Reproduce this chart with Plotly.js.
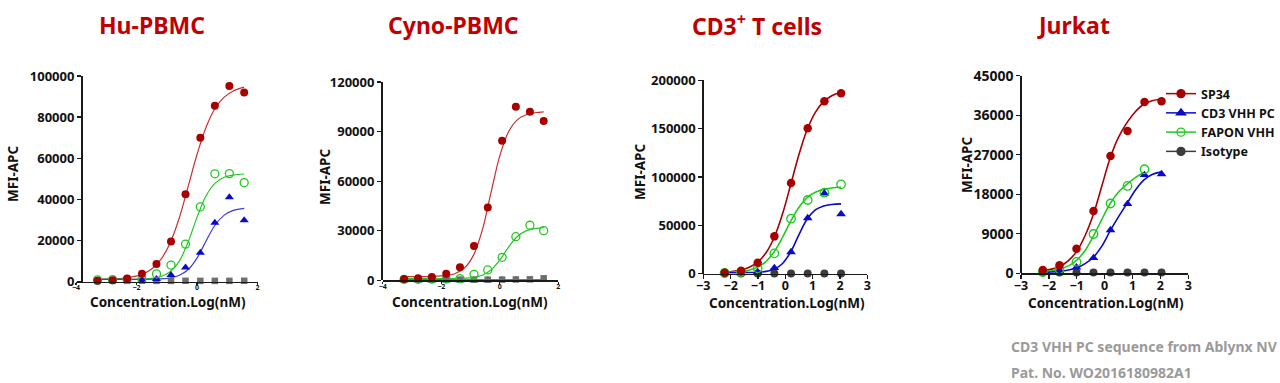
<!DOCTYPE html>
<html>
<head>
<meta charset="utf-8">
<script src="https://cdn.plot.ly/plotly-3.0.1.min.js"></script>
<style>html,body{margin:0;padding:0;background:#fff;}#chart{width:1280px;height:383px;}</style>
</head>
<body>
<div id="chart"></div>
<script>
// ---------- DATA ----------
const panelTitles = ["Hu-PBMC", "Cyno-PBMC", "CD3<sup>+</sup> T cells", "Jurkat"];
const seriesNames = ["SP34", "CD3 VHH PC", "FAPON VHH", "Isotype"];

// Panel 1 : Hu-PBMC
const p1X     = [-3.29, -2.79, -2.31, -1.82, -1.34, -0.86, -0.38, 0.11, 0.59, 1.07, 1.56];
const p1SP34  = [330, 650, 1460, 3740, 8460, 19500, 42400, 69900, 85500, 95100, 92000];
const p1CD3   = [200, 300, 400, 600, 1200, 3200, 6800, 14000, 28600, 41000, 29800];
const p1FAPON = [800, 900, 1000, 1200, 3700, 8000, 18200, 36300, 52400, 52500, 48100];
const p1Iso   = [250, 300, 300, 350, 300, 300, 350, 300, 300, 300, 350];
const p1CurveX     = [-3.29, -2.8, -2.3, -1.8, -1.5, -1.2, -0.9, -0.6, -0.3, 0, 0.3, 0.6, 0.9, 1.2, 1.56];
const p1CurveSP34  = [1090, 1270, 1840, 3600, 6050, 10600, 18400, 30300, 45800, 61800, 75100, 84300, 89700, 92700, 94600];
const p1CurveCD3   = [1000, 1000, 1010, 1040, 1100, 1270, 1720, 2890, 5700, 11400, 19700, 27500, 32300, 34600, 35600];
const p1CurveFAPON = [1000, 1010, 1040, 1200, 1530, 2410, 4630, 9580, 19000, 31200, 41700, 47900, 50700, 51800, 52300];

// Panel 2 : Cyno-PBMC
const p2X     = [-3.27, -2.79, -2.32, -1.83, -1.36, -0.88, -0.41, 0.08, 0.55, 1.03, 1.50];
const p2SP34  = [800, 1200, 2000, 4000, 7900, 20800, 44000, 84500, 105000, 102000, 96400];
const p2CD3   = [100, 100, 100, 100, 100, 100, 100, 150, 150, 200, 300];
const p2FAPON = [500, 600, 700, 800, 1000, 3600, 6250, 13900, 26400, 33300, 30050];
const p2Iso   = [400, 400, 400, 500, 400, 400, 400, 400, 500, 600, 1200];
const p2CurveX     = [-3.27, -2.8, -2.3, -1.8, -1.5, -1.2, -0.9, -0.6, -0.3, 0, 0.3, 0.6, 0.9, 1.2, 1.50];
const p2CurveSP34  = [2210, 2230, 2360, 3010, 4310, 7580, 15100, 30200, 53000, 75300, 89900, 97100, 100200, 101400, 101900];
const p2CurveCD3   = [150, 150, 150, 150, 150, 150, 150, 150, 160, 170, 180, 190, 200, 210, 220];
const p2CurveFAPON = [1000, 1000, 1010, 1040, 1100, 1280, 1770, 3070, 6190, 12200, 20100, 26500, 29900, 31300, 31900];

// Panel 3 : CD3+ T cells
const p3X     = [-2.22, -1.62, -1.01, -0.40, 0.21, 0.82, 1.43, 2.04];
const p3SP34  = [1000, 3100, 11400, 38600, 93800, 150300, 178300, 186600];
const p3CD3   = [1000, 700, 1700, 5900, 22400, 57600, 83100, 61700];
const p3FAPON = [700, 1700, 5500, 21000, 56900, 76200, 83800, 92400];
const p3Iso   = [300, 300, 300, 300, 300, 300, 300, 300];
const p3CurveX     = [-2.22, -1.9, -1.6, -1.3, -1.0, -0.7, -0.4, -0.1, 0.2, 0.5, 0.8, 1.1, 1.4, 1.7, 2.04];
const p3CurveSP34  = [1790, 2600, 4100, 6980, 12300, 21900, 38000, 62000, 92300, 123300, 149100, 166900, 177900, 184100, 187700];
const p3CurveCD3   = [1010, 1020, 1060, 1180, 1490, 2370, 4720, 10600, 22700, 40400, 56500, 65900, 70000, 71600, 72200];
const p3CurveFAPON = [1290, 1650, 2380, 3890, 6960, 12800, 23000, 37700, 54400, 68800, 78700, 84300, 87200, 88700, 89400];

// Panel 4 : Jurkat
const p4X      = [-2.22, -1.62, -1.01, -0.40, 0.21, 0.82, 1.43, 2.04];
const p4XFapon = [-2.22, -1.62, -1.01, -0.40, 0.21, 0.82, 1.43];
const p4SP34   = [760, 1820, 5600, 14200, 26700, 32400, 39000, 39200];
const p4CD3    = [230, 500, 1370, 3490, 9860, 15800, 22400, 22600];
const p4FAPON  = [300, 900, 2600, 8950, 15900, 19900, 23700];
const p4Iso    = [200, 200, 200, 200, 200, 200, 200, 200];
const p4CurveX      = [-2.22, -1.9, -1.6, -1.3, -1.0, -0.7, -0.4, -0.1, 0.2, 0.5, 0.8, 1.1, 1.4, 1.7, 2.04];
const p4CurveXFapon = [-2.22, -1.9, -1.6, -1.3, -1.0, -0.7, -0.4, -0.1, 0.2, 0.5, 0.8, 1.1, 1.43];
const p4CurveSP34   = [600, 950, 1600, 2900, 5000, 8600, 13500, 19900, 26300, 31000, 34300, 36800, 38500, 39300, 39700];
const p4CurveCD3    = [200, 300, 450, 750, 1250, 2200, 3700, 6200, 9700, 12900, 15900, 18900, 21200, 22500, 23100];
const p4CurveFAPON  = [350, 600, 1000, 1700, 3000, 5200, 8500, 12300, 15900, 18500, 20300, 21800, 23000];

const footnotes = ["CD3 VHH PC sequence from Ablynx NV", "Pat. No. WO2016180982A1"];

// ---------- STYLE ----------
const W = 1280, H = 383;
const FONT = "Noto Sans, Open Sans, Arial, sans-serif";
const RED = "#a80000", RED_LINE = "#c83030";
const BLUE = "#0a0ac8", BLUE_LINE = "#3a3ae6";
const GREEN = "#22c822";
const GRAY_SQ = "#6e6e6e", GRAY_DOT = "#3c3c3c";

const fx = p => p / W;
const fy = p => 1 - p / H;

const traces = [];
function pts(ax, x, y, color, symbol, size, open) {
  traces.push({
    type: "scatter", mode: "markers", x: x, y: y, xaxis: "x" + ax, yaxis: "y" + ax,
    showlegend: false, cliponaxis: false, hoverinfo: "skip",
    marker: open ? {symbol: symbol + "-open", size: size, color: color, line: {color: color, width: 1.3}}
                 : {symbol: symbol, size: size, color: color, line: {width: 0}}
  });
}
function curve(ax, x, y, color, width) {
  traces.push({
    type: "scatter", mode: "lines", x: x, y: y, xaxis: "x" + ax, yaxis: "y" + ax,
    showlegend: false, cliponaxis: false, hoverinfo: "skip",
    line: {color: color, width: width, shape: "spline", smoothing: 1}
  });
}

// Panel 1
curve("", p1CurveX, p1CurveSP34, RED_LINE, 1.2);
curve("", p1CurveX, p1CurveFAPON, GREEN, 1.2);
curve("", p1CurveX, p1CurveCD3, BLUE_LINE, 1.2);
pts("", p1X, p1Iso, GRAY_SQ, "square", 6.5);
pts("", p1X, p1CD3, BLUE, "triangle-up", 8);
pts("", p1X, p1FAPON, GREEN, "circle", 8, true);
pts("", p1X, p1SP34, RED, "circle", 8);
// Panel 2
curve("2", p2CurveX, p2CurveSP34, RED_LINE, 1.2);
curve("2", p2CurveX, p2CurveFAPON, GREEN, 1.2);
curve("2", p2CurveX, p2CurveCD3, BLUE_LINE, 1.5);
pts("2", p2X, p2CD3, BLUE, "triangle-up", 8);
pts("2", p2X, p2Iso, GRAY_SQ, "square", 6.5);
pts("2", p2X, p2FAPON, GREEN, "circle", 8, true);
pts("2", p2X, p2SP34, RED, "circle", 8);
// Panel 3
curve("3", p3CurveX, p3CurveSP34, RED, 1.6);
curve("3", p3CurveX, p3CurveFAPON, GREEN, 1.6);
curve("3", p3CurveX, p3CurveCD3, BLUE, 1.6);
pts("3", p3X, p3Iso, GRAY_DOT, "circle", 8);
pts("3", p3X, p3CD3, BLUE, "triangle-up", 8.5);
pts("3", p3X, p3FAPON, GREEN, "circle", 8.5, true);
pts("3", p3X, p3SP34, RED, "circle", 8.5);
// Panel 4
curve("4", p4CurveX, p4CurveSP34, RED, 1.6);
curve("4", p4CurveXFapon, p4CurveFAPON, GREEN, 1.6);
curve("4", p4CurveX, p4CurveCD3, BLUE, 1.6);
pts("4", p4X, p4Iso, GRAY_DOT, "circle", 8);
pts("4", p4X, p4CD3, BLUE, "triangle-up", 8.5);
pts("4", p4XFapon, p4FAPON, GREEN, "circle", 8.5, true);
pts("4", p4X, p4SP34, RED, "circle", 8.5);

// Legend entries
const legendStyles = [
  {color: RED, symbol: "circle"},
  {color: BLUE, symbol: "triangle-up"},
  {color: GREEN, symbol: "circle-open"},
  {color: GRAY_DOT, symbol: "circle"}
];
seriesNames.forEach((n, i) => {
  const s = legendStyles[i];
  traces.push({
    type: "scatter", mode: "lines+markers", name: n, x: [null], y: [null], xaxis: "x4", yaxis: "y4",
    line: {color: s.color, width: 1.5},
    marker: {symbol: s.symbol, size: 8, color: s.color, line: {color: s.color, width: 1.3}}
  });
});

// ---------- LAYOUT ----------
const panels = [
  {xs: 76, xe: 257.5, yAxisPx: 81, yt: 76, yb: 281.5, yr: 100000, yd: 20000, xr: [-4, 2], xd: 2, xtf: 7, ytf: 13, small: true},
  {xs: 382.7, xe: 558.3, yAxisPx: 381, yt: 82, yb: 280.3, yr: 120000, yd: 30000, xr: [-4, 2], xd: 2, xtf: 7, ytf: 13, small: true},
  {xs: 703.3, xe: 867.3, yAxisPx: 702.3, yt: 80.3, yb: 273.7, yr: 200000, yd: 50000, xr: [-3, 3], xd: 1, xtf: 12.5, ytf: 13},
  {xs: 1021, xe: 1188.3, yAxisPx: 1020.3, yt: 75.7, yb: 273.3, yr: 45000, yd: 9000, xr: [-3, 3], xd: 1, xtf: 12.5, ytf: 14}
];

const layout = {
  width: W, height: H,
  margin: {l: 0, r: 0, t: 0, b: 0},
  paper_bgcolor: "#ffffff", plot_bgcolor: "rgba(0,0,0,0)",
  font: {family: FONT, color: "#111", weight: "bold"},
  showlegend: true,
  legend: {
    x: fx(1161), y: fy(79), xanchor: "left", yanchor: "top",
    bgcolor: "rgba(0,0,0,0)", borderwidth: 0,
    font: {family: FONT, size: 12.5, color: "#111", weight: "bold"},
    tracegroupgap: 0, itemwidth: 30
  },
  annotations: [],
  hovermode: false
};

panels.forEach((p, i) => {
  const k = i === 0 ? "" : String(i + 1);
  layout["xaxis" + k] = {
    domain: [fx(p.xs), fx(p.xe)], range: p.xr, dtick: p.xd, tick0: 0,
    anchor: "y" + k, showgrid: false, zeroline: false,
    showline: true, linecolor: "#1a1a1a", linewidth: 1.5,
    ticks: "outside", ticklen: p.small ? 2 : 4, tickwidth: 1.3, tickcolor: "#1a1a1a",
    ticklabelstandoff: p.small ? -3 : -4,
    tickfont: {family: FONT, size: p.xtf, color: "#111", weight: "bold"},
    fixedrange: true
  };
  layout["yaxis" + k] = {
    domain: [fy(p.yb), fy(p.yt)], range: [0, p.yr], dtick: p.yd, tick0: 0,
    anchor: "free", position: fx(p.yAxisPx), showgrid: false, zeroline: false,
    showline: true, linecolor: "#1a1a1a", linewidth: 1.5,
    ticks: "outside", ticklen: 4, tickwidth: 1.3, tickcolor: "#1a1a1a",
    tickfont: {family: FONT, size: p.ytf, color: "#111", weight: "bold"},
    tickformat: "d",
    fixedrange: true
  };
});

// panel titles
const titlePos = [152, 453, 757, 1073];
panelTitles.forEach((t, i) => {
  layout.annotations.push({
    text: t, xref: "paper", yref: "paper", x: fx(titlePos[i]), y: fy(25),
    xanchor: "center", yanchor: "middle", showarrow: false,
    font: {family: FONT, size: 23, color: "#c00000", weight: "bold"}
  });
});
// axis titles
const xTitlePos = [[167.5, 302], [469.8, 302], [787, 303], [1105.5, 303]];
const yTitlePos = [[13, 174], [325, 177], [640, 172], [967, 165]];
for (let i = 0; i < 4; i++) {
  layout.annotations.push({
    text: "Concentration.Log(nM)", xref: "paper", yref: "paper",
    x: fx(xTitlePos[i][0]), y: fy(xTitlePos[i][1]), xanchor: "center", yanchor: "middle",
    showarrow: false, font: {family: FONT, size: 13.5, color: "#111", weight: "bold"}
  });
  layout.annotations.push({
    text: "MFI-APC", xref: "paper", yref: "paper", textangle: -90,
    x: fx(yTitlePos[i][0]), y: fy(yTitlePos[i][1]), xanchor: "center", yanchor: "middle",
    showarrow: false, font: {family: FONT, size: 13.5, color: "#111", weight: "bold"}
  });
}
// footnotes
footnotes.forEach((t, i) => {
  layout.annotations.push({
    text: t, xref: "paper", yref: "paper", x: fx(1009), y: fy(i === 0 ? 346 : 372),
    xanchor: "left", yanchor: "middle", showarrow: false,
    font: {family: FONT, size: 14, color: "#9a9a9a", weight: "bold"}
  });
});

Plotly.newPlot("chart", traces, layout, {displayModeBar: false, staticPlot: true});
</script>
</body>
</html>
